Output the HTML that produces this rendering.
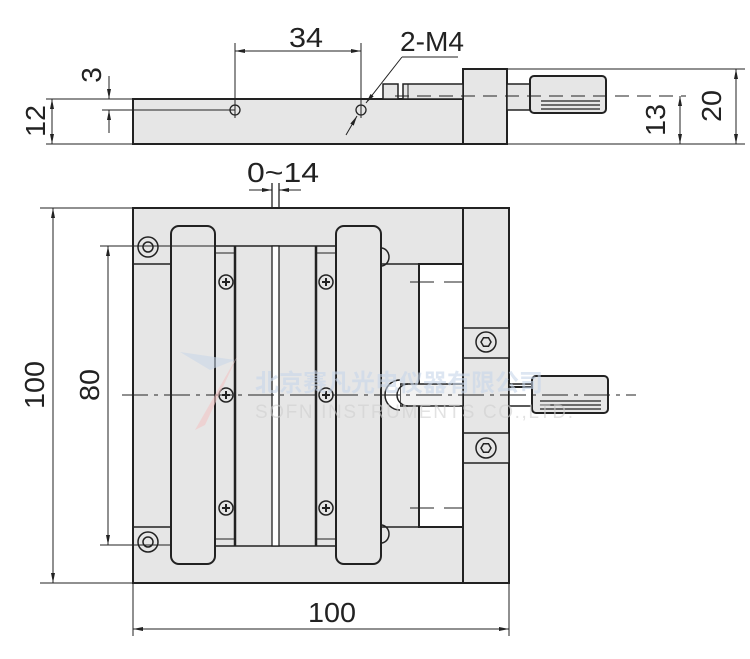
<!DOCTYPE html>
<html><head><meta charset="utf-8"><style>html,body{margin:0;padding:0;background:#fff}svg{display:block}text{font-family:"Liberation Sans",sans-serif;fill:#222}</style></head><body>
<svg width="750" height="659" viewBox="0 0 750 659" xmlns="http://www.w3.org/2000/svg">
<defs>
<marker id="a" viewBox="0 0 10 4" refX="10" refY="2" markerWidth="10" markerHeight="4" orient="auto-start-reverse" markerUnits="userSpaceOnUse"><path d="M0,0L10,2L0,4z" fill="#222"/></marker>
</defs>
<g stroke="#222" fill="none">
<!-- TOP VIEW -->
<rect x="133" y="99" width="330" height="45" fill="#e6e6e6" stroke-width="2"/>
<rect x="463" y="69" width="44" height="75" fill="#e6e6e6" stroke-width="2"/>
<rect x="383" y="84" width="15" height="15" fill="#e6e6e6" stroke-width="1.5"/>
<rect x="403" y="84" width="60" height="15" fill="#e6e6e6" stroke-width="1.5"/>
<line x1="408" y1="84" x2="408" y2="99"/>
<rect x="507" y="84" width="23" height="26" fill="#e6e6e6" stroke-width="1.5"/>
<rect x="530" y="76" width="76" height="37" rx="4" fill="#e6e6e6" stroke-width="2"/>
<line x1="541" y1="101" x2="600" y2="101" stroke-width="1.3"/>
<line x1="541" y1="105" x2="600" y2="105" stroke-width="1.3"/>
<line x1="541" y1="109" x2="600" y2="109" stroke-width="1.3"/>
<line x1="395" y1="96" x2="686" y2="96" stroke-dasharray="14,8" stroke-width="1"/>
<circle cx="235" cy="110" r="5" fill="#e6e6e6" stroke-width="1.3"/>
<circle cx="361" cy="110" r="5" fill="#e6e6e6" stroke-width="1.3"/>
<line x1="235" y1="43" x2="235" y2="118" stroke-width="1"/>
<line x1="361" y1="43" x2="361" y2="118" stroke-width="1"/>
<line x1="235" y1="51" x2="361" y2="51" marker-start="url(#a)" marker-end="url(#a)" stroke-width="1"/>
<line x1="402" y1="57" x2="458" y2="57" stroke-width="1"/>
<line x1="402" y1="57" x2="366" y2="103" marker-end="url(#a)" stroke-width="1"/>
<line x1="357" y1="116" x2="346" y2="135" marker-start="url(#a)" stroke-width="1"/>
<!-- 12, 3 -->
<line x1="46" y1="99" x2="133" y2="99" stroke-width="1"/>
<line x1="46" y1="144" x2="133" y2="144" stroke-width="1"/>
<line x1="52" y1="99" x2="52" y2="144" marker-start="url(#a)" marker-end="url(#a)" stroke-width="1"/>
<line x1="102" y1="110" x2="235" y2="110" stroke-width="1"/>
<line x1="109" y1="76" x2="109" y2="99" marker-end="url(#a)" stroke-width="1"/>
<line x1="109" y1="110" x2="109" y2="133" marker-start="url(#a)" stroke-width="1"/>
<!-- 13, 20 -->
<line x1="507" y1="69" x2="745" y2="69" stroke-width="1"/>
<line x1="507" y1="144" x2="745" y2="144" stroke-width="1"/>
<line x1="680" y1="96" x2="680" y2="144" marker-start="url(#a)" marker-end="url(#a)" stroke-width="1"/>
<line x1="736" y1="69" x2="736" y2="144" marker-start="url(#a)" marker-end="url(#a)" stroke-width="1"/>
<!-- 0~14 -->
<line x1="272" y1="183" x2="272" y2="548" stroke-width="1.3"/>
<line x1="279" y1="183" x2="279" y2="548" stroke-width="1.3"/>
<line x1="249" y1="190" x2="272" y2="190" marker-end="url(#a)" stroke-width="1"/>
<line x1="301" y1="190" x2="279" y2="190" marker-end="url(#a)" stroke-width="1"/>

<!-- PLAN VIEW -->
<rect x="133" y="208" width="376" height="375" fill="#e6e6e6" stroke-width="2"/>
<line x1="463" y1="208" x2="463" y2="583" stroke-width="2"/>
<path d="M133,264H171M133,527H171" stroke-width="1.5"/>
<rect x="463" y="328" width="46" height="30" fill="#e6e6e6" stroke-width="1.5"/>
<rect x="463" y="433" width="46" height="30" fill="#e6e6e6" stroke-width="1.5"/>
<rect x="381" y="264" width="82" height="263" fill="#e6e6e6" stroke-width="1.5"/>
<rect x="419" y="264" width="44" height="263" fill="#fff" stroke-width="2"/>
<line x1="410" y1="282" x2="464" y2="282" stroke-dasharray="24,10" stroke-width="1"/>
<line x1="410" y1="508" x2="464" y2="508" stroke-dasharray="24,10" stroke-width="1"/>
<rect x="215" y="246" width="121" height="300" fill="#e6e6e6" stroke-width="1.5"/>
<rect x="272" y="246" width="7" height="300" fill="#fff" stroke-width="1.3"/>
<line x1="235" y1="246" x2="235" y2="546" stroke-width="2.5"/>
<line x1="316" y1="246" x2="316" y2="546" stroke-width="2.5"/>
<path d="M215,253H235M215,539H235M316,253H336M316,539H336" stroke-width="1"/>
<rect x="171" y="226" width="44" height="338" rx="8" fill="#e6e6e6" stroke-width="2"/>
<rect x="336" y="226" width="45" height="338" rx="8" fill="#e6e6e6" stroke-width="2"/>
<path d="M381,248A8,9 0 0 1 381,266M381,525A8,9 0 0 1 381,543" stroke-width="1.5"/>
<g stroke-width="1.5" fill="#e6e6e6">
<circle cx="226" cy="282" r="7"/><circle cx="226" cy="395" r="7"/><circle cx="226" cy="508" r="7"/>
<circle cx="326" cy="282" r="7"/><circle cx="326" cy="395" r="7"/><circle cx="326" cy="508" r="7"/>
</g>
<path d="M222,282h8M226,278v8M222,395h8M226,391v8M222,508h8M226,504v8M322,282h8M326,278v8M322,395h8M326,391v8M322,508h8M326,504v8" stroke-width="2"/>
<g stroke-width="1.5" fill="#e6e6e6">
<circle cx="148" cy="247" r="10"/><circle cx="148" cy="247" r="5"/>
<circle cx="148" cy="542" r="10"/><circle cx="148" cy="542" r="5"/>
<circle cx="486" cy="342" r="10"/><polygon points="491,342 488.5,346.3 483.5,346.3 481,342 483.5,337.7 488.5,337.7"/>
<circle cx="486" cy="448" r="10"/><polygon points="491,448 488.5,452.3 483.5,452.3 481,448 483.5,443.7 488.5,443.7"/>
</g>
<rect x="400" y="384" width="63" height="22" fill="#f2f2f2" stroke-width="1.5"/>
<path d="M400,380A15,15 0 0 0 400,410" fill="#fff" stroke-width="1.5"/>
<path d="M408,384A11,11 0 0 0 408,406" stroke-width="1.5"/>
<rect x="509" y="384" width="23" height="22" fill="#fff" stroke-width="1.5"/>
<line x1="509" y1="387" x2="532" y2="387" stroke-width="2"/>
<rect x="532" y="376" width="76" height="37" rx="4" fill="#e6e6e6" stroke-width="2"/>
<line x1="540" y1="401" x2="601" y2="401" stroke-width="1.2"/>
<line x1="540" y1="405" x2="601" y2="405" stroke-width="1.2"/>
<line x1="540" y1="409" x2="601" y2="409" stroke-width="1.2"/>
<line x1="122" y1="395" x2="636" y2="395" stroke-dasharray="26,6,4,6" stroke-width="1"/>
<line x1="40" y1="208" x2="133" y2="208" stroke-width="1"/>
<line x1="40" y1="583" x2="133" y2="583" stroke-width="1"/>
<line x1="53" y1="208" x2="53" y2="583" marker-start="url(#a)" marker-end="url(#a)" stroke-width="1"/>
<line x1="100" y1="246" x2="215" y2="246" stroke-width="1"/>
<line x1="100" y1="545" x2="171" y2="545" stroke-width="1"/>
<line x1="108" y1="246" x2="108" y2="545" marker-start="url(#a)" marker-end="url(#a)" stroke-width="1"/>
<line x1="133" y1="583" x2="133" y2="636" stroke-width="1"/>
<line x1="509" y1="583" x2="509" y2="636" stroke-width="1"/>
<line x1="133" y1="629" x2="509" y2="629" marker-start="url(#a)" marker-end="url(#a)" stroke-width="1"/>
</g>
<path d="M180,352L235,360L210,370Z" fill="#c9d7e8" opacity="0.6"/>
<path d="M238,355L205,425L195,430L215,395Z" fill="#f2c4c4" opacity="0.6"/>
<text x="255" y="391" font-size="24" font-weight="bold" style="fill:#c8d6ea;font-family:'Liberation Sans','Noto Sans CJK SC',sans-serif" opacity="0.6">北京赛凡光电仪器有限公司</text>
<text x="255" y="418" font-size="19" textLength="318" style="fill:#cfcfcf" opacity="0.6">SOFN INSTRUMENTS CO.,LTD.</text>
<g font-size="28" style="fill:#2a2a2a">
<text x="306" y="47" text-anchor="middle" textLength="34" lengthAdjust="spacingAndGlyphs">34</text>
<text x="432" y="51" text-anchor="middle" textLength="64" lengthAdjust="spacingAndGlyphs">2-M4</text>
<text x="283" y="182" text-anchor="middle" textLength="72" lengthAdjust="spacingAndGlyphs">0~14</text>
<text x="332" y="622" text-anchor="middle" textLength="48" lengthAdjust="spacingAndGlyphs">100</text>
<text transform="translate(45,121) rotate(-90)" text-anchor="middle" textLength="32" lengthAdjust="spacingAndGlyphs">12</text>
<text transform="translate(101,75) rotate(-90)" text-anchor="middle">3</text>
<text transform="translate(665,120) rotate(-90)" text-anchor="middle" textLength="32" lengthAdjust="spacingAndGlyphs">13</text>
<text transform="translate(721,106) rotate(-90)" text-anchor="middle" textLength="32" lengthAdjust="spacingAndGlyphs">20</text>
<text transform="translate(44,385) rotate(-90)" text-anchor="middle" textLength="48" lengthAdjust="spacingAndGlyphs">100</text>
<text transform="translate(99,385) rotate(-90)" text-anchor="middle" textLength="32" lengthAdjust="spacingAndGlyphs">80</text>
</g>
</svg>
</body></html>
